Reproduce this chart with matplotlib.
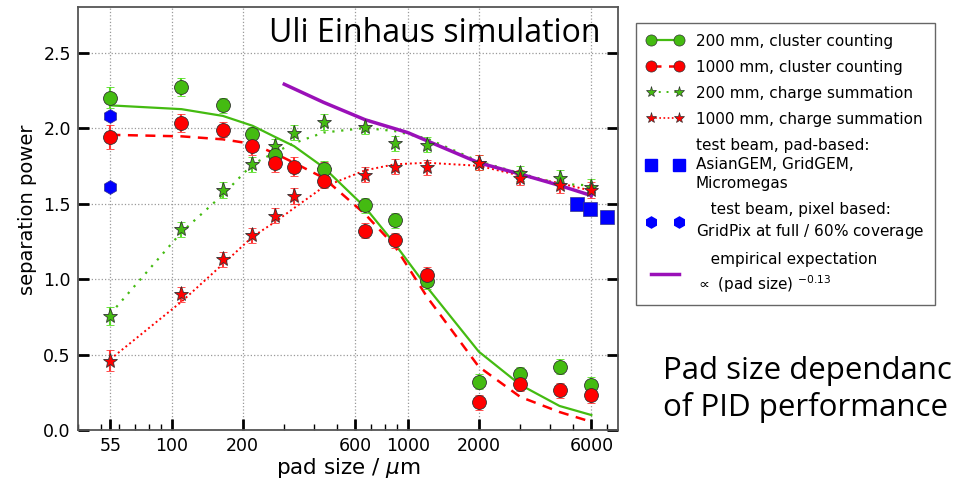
import matplotlib
matplotlib.use("Agg")
from matplotlib import pyplot as plt
from matplotlib.lines import Line2D
from matplotlib.ticker import FixedLocator, FixedFormatter, NullFormatter

# pad sizes in um
pad = [55, 110, 165, 220, 275, 330, 440, 660, 880, 1210, 2000, 3000, 4400, 6000]
pad_cc200 = [55, 110, 165, 220, 275, 440, 660, 880, 1210, 2000, 3000, 4400, 6000]

# simulation points
cc200 = [2.20, 2.27, 2.15, 1.96, 1.82, 1.73, 1.49, 1.39, 0.985, 0.32, 0.37, 0.42, 0.30]
cc1000 = [1.94, 2.035, 1.99, 1.88, 1.77, 1.745, 1.65, 1.32, 1.256, 1.03, 0.185, 0.306, 0.264, 0.23]
cs200 = [0.755, 1.33, 1.59, 1.76, 1.88, 1.97, 2.04, 2.01, 1.90, 1.89, 1.77, 1.70, 1.67, 1.61]
cs1000 = [0.46, 0.90, 1.13, 1.29, 1.42, 1.55, 1.725, 1.69, 1.745, 1.74, 1.77, 1.67, 1.62, 1.59]
err_cc200 = [0.07, 0.06, 0.05, 0.05, 0.05, 0.05, 0.05, 0.05, 0.05, 0.05, 0.05, 0.05, 0.05]
err_cc1000 = [0.08, 0.06, 0.05, 0.06, 0.06, 0.06, 0.05, 0.05, 0.05, 0.05, 0.05, 0.05, 0.05, 0.05]
err_cs200 = [0.06, 0.05, 0.05, 0.05, 0.05, 0.05, 0.05, 0.05, 0.05, 0.05, 0.05, 0.05, 0.05, 0.05]
err_cs1000 = [0.07, 0.05, 0.05, 0.05, 0.05, 0.05, 0.05, 0.05, 0.05, 0.05, 0.05, 0.05, 0.05, 0.05]

# fitted curves
fit_cc200 = [2.15, 2.125, 2.08, 2.015, 1.94, 1.88, 1.74, 1.475, 1.235, 0.945, 0.52, 0.30, 0.16, 0.10]
fit_cc1000 = [1.955, 1.945, 1.925, 1.895, 1.83, 1.77, 1.67, 1.43, 1.22, 0.88, 0.42, 0.22, 0.12, 0.055]
fit_cs200 = [0.77, 1.31, 1.56, 1.76, 1.84, 1.90, 1.97, 2.00, 1.98, 1.93, 1.78, 1.70, 1.63, 1.62]
fit_cs1000 = [0.47, 0.85, 1.10, 1.28, 1.38, 1.47, 1.61, 1.72, 1.76, 1.77, 1.75, 1.685, 1.635, 1.585]

# test beam
tb_pad_x = [5200, 5900, 7000]
tb_pad_y = [1.495, 1.465, 1.41]
tb_pix_x = [55, 55]
tb_pix_y = [2.08, 1.61]

# empirical expectation
emp_x = [300, 440, 660, 1000, 2000, 3000, 4400, 6000]
emp_y = [2.29, 2.17, 2.055, 1.97, 1.77, 1.695, 1.62, 1.553]

xticks = [55, 100, 200, 600, 1000, 2000, 6000]
xticklabels = ["55", "100", "200", "600", "1000", "2000", "6000"]

green = "#44bb11"
red = "#ff0000"
purple = "#9a10b8"
blue = "#0000ff"

plt.rcParams['font.family'] = ['DejaVu Sans']
fig = plt.figure(figsize=(9.6, 4.79), dpi=100)
ax = fig.add_axes([0.081, 0.102, 0.563, 0.883])

# fit lines
ax.plot(pad, fit_cc200, color=green, lw=1.6, ls='-')
ax.plot(pad, fit_cc1000, color=red, lw=1.8, ls=(0, (4, 3)))
ax.plot(pad, fit_cs200, color=green, lw=1.6, ls=(0, (1, 3)))
ax.plot(pad, fit_cs1000, color=red, lw=1.4, ls=(0, (1, 1.5)))

# points
ax.errorbar(pad, cs200, yerr=err_cs200, fmt='*', color=green, ms=11, mec='#333333', mew=0.6,
            ecolor='#55dd22', elinewidth=1.5, capsize=3, capthick=1)
ax.errorbar(pad, cs1000, yerr=err_cs1000, fmt='*', color=red, ms=11, mec='#333333', mew=0.6,
            ecolor='#ff3333', elinewidth=1.5, capsize=3, capthick=1)
ax.errorbar(pad_cc200, cc200, yerr=err_cc200, fmt='o', color=green, ms=10, mec='#333333', mew=0.6,
            ecolor='#55dd22', elinewidth=1.5, capsize=3, capthick=1)
ax.errorbar(pad, cc1000, yerr=err_cc1000, fmt='o', color=red, ms=10, mec='#333333', mew=0.6,
            ecolor='#ff3333', elinewidth=1.5, capsize=3, capthick=1)

ax.plot(emp_x, emp_y, color=purple, lw=2.5)
ax.plot(tb_pad_x, tb_pad_y, 's', color=blue, ms=10, mec='#333388', mew=0.5, ls='none')
ax.plot(tb_pix_x, tb_pix_y, 'h', color=blue, ms=10, mec='#333388', mew=0.5, ls='none')

ax.set_xscale('log')
ax.set_xlim(40, 7800)
ax.set_ylim(0, 2.8)
ax.xaxis.set_major_locator(FixedLocator(xticks))
ax.xaxis.set_major_formatter(FixedFormatter(xticklabels))
ax.xaxis.set_minor_formatter(NullFormatter())
ax.set_yticks([0.0, 0.5, 1.0, 1.5, 2.0, 2.5])
ax.set_yticklabels(["0.0", "0.5", "1.0", "1.5", "2.0", "2.5"])
ax.tick_params(axis='both', which='major', direction='in', length=8, width=2, labelsize=12.5, pad=5)
ax.tick_params(axis='x', which='minor', direction='in', length=4, width=1)
ax.tick_params(axis='y', right=True)
ax.grid(True, which='major', ls=':', color='#999999', lw=0.9)
for sp in ax.spines.values():
    sp.set_color('#555555')
    sp.set_linewidth(1.3)

ax.set_xlabel("pad size / $\\mu$m", fontsize=15.5, labelpad=1)
ax.set_ylabel("separation power", fontsize=14, labelpad=3)
ax.yaxis.set_label_coords(-0.075, 0.52)

# legend
handles = [
    Line2D([], [], color=green, marker='o', ls='-', ms=8, mec='#333333', mew=0.5, lw=1.6),
    Line2D([], [], color=red, marker='o', ls=(0, (4, 3)), ms=8, mec='#333333', mew=0.5, lw=1.8),
    Line2D([], [], color=green, marker='*', ls=(0, (1, 3)), ms=8, mec='#333333', mew=0.5, lw=1.4),
    Line2D([], [], color=red, marker='*', ls=(0, (1, 1.5)), ms=8, mec='#333333', mew=0.5, lw=1.2),
    Line2D([], [], color=blue, marker='s', ls='none', ms=8),
    Line2D([], [], color=blue, marker='h', ls='none', ms=8),
    Line2D([], [], color=purple, ls='-', lw=2.5),
]
labels = [
    "200 mm, cluster counting",
    "1000 mm, cluster counting",
    "200 mm, charge summation",
    "1000 mm, charge summation",
    "test beam, pad-based:\nAsianGEM, GridGEM,\nMicromegas",
    "   test beam, pixel based:\nGridPix at full / $60\\%$ coverage",
    "   empirical expectation\n$\\propto$ (pad size) $^{-0.13}$",
]
leg = fig.legend(handles, labels, loc='upper left', bbox_to_anchor=(0.6625, 0.952),
                 borderaxespad=0, fontsize=11, numpoints=2, handlelength=2.4,
                 handletextpad=0.8, fancybox=False, framealpha=1, edgecolor='#666666',
                 borderpad=0.7, labelspacing=0.72)
leg.get_frame().set_linewidth(1.0)
for t in leg.get_texts():
    t.set_linespacing(1.35)

fig.text(435 / 960, 1 - 33 / 479, "Uli Einhaus simulation", family="Open Sans",
         fontsize=23, ha='center', va='center')
# the slide crops the word at the right edge
fig.text(663 / 960, 1 - 356 / 479, "Pad size dependanc\nof PID performance",
         family="Open Sans", fontsize=22.5, ha='left', va='top', linespacing=1.25)

fig.savefig("out.png", dpi=100)
